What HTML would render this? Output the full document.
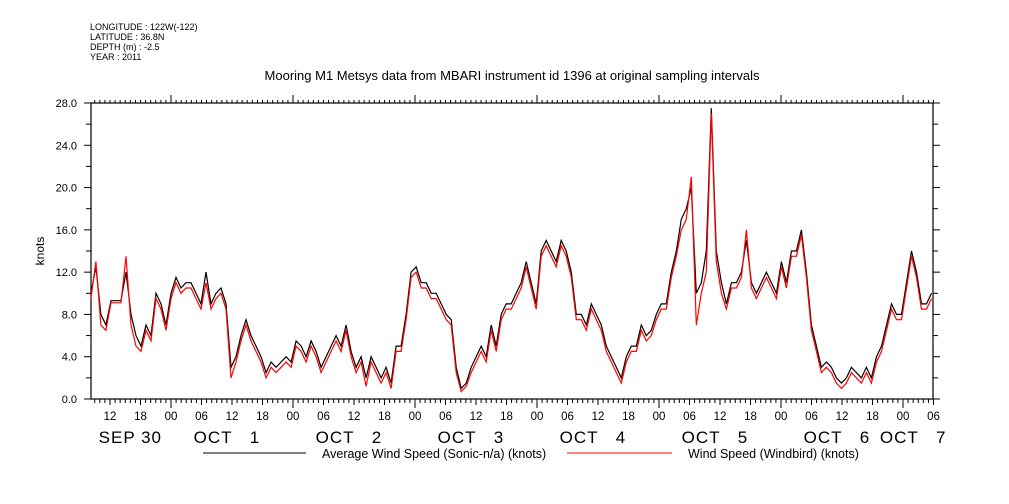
<!DOCTYPE html>
<html><head><meta charset="utf-8">
<style>
html,body{margin:0;padding:0;background:#fff;}
svg{display:block;font-family:"Liberation Sans","DejaVu Sans",sans-serif;}
</style></head>
<body>
<svg id="chart" width="1009" height="504" viewBox="0 0 1009 504" xmlns="http://www.w3.org/2000/svg">
<g font-size="9" fill="#000">
<text x="90" y="30">LONGITUDE : 122W(-122)</text>
<text x="90" y="40">LATITUDE : 36.8N</text>
<text x="90" y="50">DEPTH (m) : -2.5</text>
<text x="90" y="60">YEAR : 2011</text>
</g>
<text x="512" y="80" text-anchor="middle" font-size="13">Mooring M1 Metsys data from MBARI instrument id 1396 at original sampling intervals</text>
<text transform="translate(44,251) rotate(-90)" text-anchor="middle" font-size="12">knots</text>
<g id="axes"></g>
<g id="series"></g>
<g font-size="12.5">
<line x1="203" y1="453" x2="306" y2="453" stroke="#000" stroke-width="1"/>
<text x="322" y="458">Average Wind Speed (Sonic-n/a) (knots)</text>
<line x1="567" y1="453" x2="672" y2="453" stroke="#f00" stroke-width="1"/>
<text x="688" y="458">Wind Speed (Windbird) (knots)</text>
</g>
</svg>
<script>
const yTicks=[0,4,8,12,16,20,24,28];
const yTickLabels=["0.0","4.0","8.0","12.0","16.0","20.0","24.0","28.0"];
const hourLabels=["00","06","12","18"];
const dayLabels=["SEP 30","OCT\u00a0\u00a0\u00a01","OCT\u00a0\u00a0\u00a02","OCT\u00a0\u00a0\u00a03","OCT\u00a0\u00a0\u00a04","OCT\u00a0\u00a0\u00a05","OCT\u00a0\u00a0\u00a06","OCT\u00a0\u00a0\u00a07"];
const dayLabelHours=[-8,11,35,59,83,107,131,146];
const startHour=-15.75, endHour=150.0;
const avgSpeed=[10,12.5,8,7,9.3,9.3,9.3,12,8,6,5,7,6,10,9,7,10,11.5,10.5,11,11,10,9,12,9,10,10.5,9,3,4,6,7.5,6,5,4,2.5,3.5,3,3.5,4,3.5,5.5,5,4,5.5,4.5,3,4,5,6,5,7,4.5,3,4,2,4,3,2,3,1.5,5,5,8,12,12.5,11,11,10,10,9,8,7.5,3,1,1.5,3,4,5,4,7,5,8,9,9,10,11,13,11,9,14,15,14,13,15,14,12,8,8,7,9,8,7,5,4,3,2,4,5,5,7,6,6.5,8,9,9,12,14,17,18,20,10,11,14,27.5,14,11,9,11,11,12,15,11,10,11,12,11,10,13,11,14,14,16,12,7,5,3,3.5,3,2,1.5,2,3,2.5,2,3,2,4,5,7,9,8,8,11,14,12,9,9,10];
const windbird=[9.5,13,7,6.5,9.1,9.1,9.1,13.5,7,5,4.5,6.5,5.5,9.5,8.5,6.5,9.5,11,10,10.5,10.5,9.5,8.5,11,8.5,9.5,10,8.5,2,3.5,5.5,7,5.5,4.5,3.5,2,3,2.5,3,3.5,3,5,4.5,3.5,5,4,2.5,3.5,4.5,5.5,4.5,6.5,4,2.5,3.5,1.2,3.5,2.5,1.5,2.5,1,4.5,4.5,7.5,11.5,12,10.5,10.5,9.5,9.5,8.5,7.5,7,2.5,0.7,1.2,2.5,3.5,4.5,3.5,6.5,4.5,7.5,8.5,8.5,9.5,10.5,12.5,10.5,8.5,13.5,14.5,13.5,12.5,14.5,13.5,11.5,7.5,7.5,6.5,8.5,7.5,6.5,4.5,3.5,2.5,1.5,3.5,4.5,4.5,6.5,5.5,6,7.5,8.5,8.5,11.5,13.5,16,17,21,7,10,12,27,13,10,8.5,10.5,10.5,11.5,16,10.5,9.5,10.5,11.5,10.5,9.5,12.5,10.5,13.5,13.5,15.5,11.5,6.5,4.5,2.5,3,2.5,1.5,1,1.5,2.5,2,1.5,2.5,1.5,3.5,4.5,6.5,8.5,7.5,7.5,10.5,13.5,11.5,8.5,8.5,9.5];
const stepHours=5/5.08;
const NS="http://www.w3.org/2000/svg";
const L=91,R=933,T=103,B=399;
const dayX0=171, pxPerHour=122/24;
function xScale(h){return dayX0+h*pxPerHour;}
function yScale(v){return B-(v/28)*(B-T);}
function mk(tag,attrs,parent){const e=document.createElementNS(NS,tag);for(const k in attrs)e.setAttribute(k,attrs[k]);parent.appendChild(e);return e;}
const axes=document.getElementById('axes');
const frame=mk('rect',{x:L,y:T,width:R-L,height:B-T,fill:'none',stroke:'#000','stroke-width':1.2},axes);


for(let v=0;v<=28;v+=2){
  const y=yScale(v);const major=(v%4===0);
  const t1=mk('line',{x1:major?84:86,y1:y,x2:L,y2:y,stroke:'#000'},axes);
  
  
  const t2=mk('line',{x1:R,y1:y,x2:major?940:938,y2:y,stroke:'#000'},axes);
  
  
}
yTicks.forEach((v,i)=>{
  const t=mk('text',{x:77,y:yScale(v)+4,'text-anchor':'end','font-size':11},axes);
  t.textContent=yTickLabels[i];
  
  
});
for(let h=Math.ceil(startHour);h<=endHour;h++){
  const x=xScale(h);if(x<L-0.5||x>R+0.5)continue;
  const hod=((h%24)+24)%24;
  const len=hod===0?9:(hod%6===0?6:4);
  const tb=mk('line',{x1:x,y1:B,x2:x,y2:B+len,stroke:'#000'},axes);
  
  
  const tt=mk('line',{x1:x,y1:T,x2:x,y2:T-(hod===0?8:3),stroke:'#000'},axes);
  
  
  if(hod%6===0){
    const lb=mk('text',{x:x,y:B+21,'text-anchor':'middle','font-size':11.5},axes);
    lb.textContent=hourLabels[hod/6];
    
    
  }
}
dayLabels.forEach((d,i)=>{
  const t=mk('text',{x:xScale(dayLabelHours[i]),y:B+44,'text-anchor':'middle','font-size':17,'letter-spacing':1},axes);
  t.textContent=d;
  
  
});
const sg=document.getElementById('series');
function path(arr){return arr.map((v,i)=>(i?'L':'M')+xScale(startHour+i*stepHours).toFixed(1)+','+yScale(v).toFixed(1)).join('');}
const p1=mk('path',{d:path(avgSpeed),fill:'none',stroke:'#000','stroke-width':1.2},sg);


const p2=mk('path',{d:path(windbird),fill:'none',stroke:'#f00','stroke-width':1.2},sg);


</script>
</body></html>
